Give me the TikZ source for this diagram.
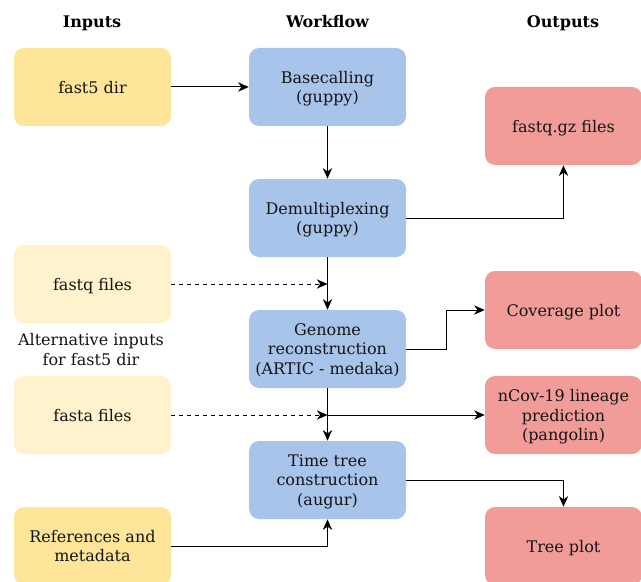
\documentclass[tikz,border=0pt]{standalone}
\usepackage{fontspec}
\setmainfont{DejaVu Serif}
\usetikzlibrary{arrows.meta}
\definecolor{inyel}{HTML}{FFE599}
\definecolor{altyel}{HTML}{FFF2CC}
\definecolor{wfblue}{HTML}{A9C4EB}
\definecolor{outred}{HTML}{F19C99}
\definecolor{txt}{HTML}{141414}
\tikzset{
  box/.style={rounded corners=7.5pt, minimum width=117.75pt, minimum height=58.5pt,
    inner sep=2pt, align=center, font=\fontsize{12pt}{14.4pt}\selectfont, text=txt,
    text depth=0pt},
  inbox/.style={box, fill=inyel},
  altbox/.style={box, fill=altyel},
  wfbox/.style={box, fill=wfblue},
  outbox/.style={box, fill=outred},
  hdr/.style={font=\fontsize{12pt}{14.4pt}\selectfont\bfseries, text=black, anchor=base},
  conn/.style={line width=0.75pt, -{Stealth[length=8pt,width=7pt,inset=2.5pt]}},
  dconn/.style={conn, dash pattern=on 3pt off 3pt},
}
\begin{document}
\begin{tikzpicture}[x=0.75pt,y=-0.75pt]
\useasboundingbox (0,0) rectangle (641,581);
% headers
\node[hdr] (hin) at (92,28) {Inputs};
\node[hdr] (hwf) at (327.5,28) {Workflow};
\node[hdr] (hout) at (563,28) {Outputs};
% inputs
\node[inbox] (fast5) at (92.5,87) {fast5 dir};
\node[altbox] (fastq) at (92.5,284) {fastq files};
\node[font=\fontsize{12pt}{14.4pt}\selectfont, text=txt, align=center, text depth=0pt] (alt) at (91,349.5) {Alternative inputs\\for fast5 dir};
\node[altbox] (fasta) at (92.5,415) {fasta files};
\node[inbox] (refs) at (92.5,546) {References and\\metadata};
% workflow
\node[wfbox] (base) at (327.5,87) {Basecalling\\(guppy)};
\node[wfbox] (demux) at (327.5,218) {Demultiplexing\\(guppy)};
\node[wfbox] (genome) at (327.5,349) {Genome\\reconstruction\\(ARTIC - medaka)};
\node[wfbox] (time) at (327.5,480) {Time tree\\construction\\(augur)};
% outputs
\node[outbox] (fqgz) at (563.5,126) {fastq.gz files};
\node[outbox] (cov) at (563.5,310) {Coverage plot};
\node[outbox] (lin) at (563.5,415) {nCov-19 lineage\\prediction\\(pangolin)};
\node[outbox] (tree) at (563.5,546) {Tree plot};
% junction coordinates
\coordinate (jq) at (327.5,284);
\coordinate (ja) at (327.5,415);
\coordinate (jc) at (446,349);
% connectors
\draw[conn] (fast5.east) -- (base.west);
\draw[conn] (base.south) -- (demux.north);
\draw[conn] (demux.east) -| (fqgz.south);
\draw[conn] (demux.south) -- (genome.north);
\draw[dconn] (fastq.east) -- (jq);
\draw[conn] (genome.east) -- (jc) |- (cov.west);
\draw[conn] (genome.south) -- (time.north);
\draw[dconn] (fasta.east) -- (ja);
\draw[conn] (ja) -- (lin.west);
\draw[conn] (refs.east) -| (time.south);
\draw[conn] (time.east) -| (tree.north);
\end{tikzpicture}
\end{document}
